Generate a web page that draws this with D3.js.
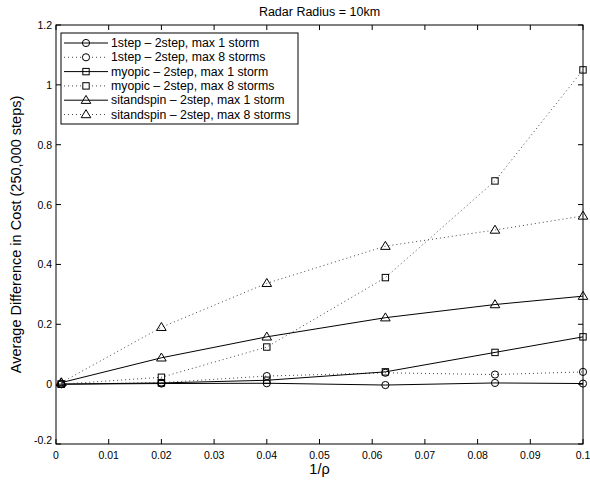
<!DOCTYPE html>
<html lang="en">
<head>
<meta charset="UTF-8">
<title>Radar Radius = 10km</title>
<script src="https://d3js.org/d3.v7.min.js"></script>
<style>
  body { margin: 0; background: #fff; }
  svg { display: block; font-family: "Liberation Sans", Arial, sans-serif; }
</style>
</head>
<body>
<div id="chart"></div>
<script>
const xValues = [0.001, 0.02, 0.04, 0.0625, 0.0833, 0.1]
const seriesNames = [
  "1step \u2013 2step, max 1 storm",
  "1step \u2013 2step, max 8 storms",
  "myopic \u2013 2step, max 1 storm",
  "myopic \u2013 2step, max 8 storms",
  "sitandspin \u2013 2step, max 1 storm",
  "sitandspin \u2013 2step, max 8 storms"
]
const oneStep1 = [0, 0.002, 0.003, -0.003, 0.004, 0.002]
const oneStep8 = [0, 0.005, 0.027, 0.038, 0.032, 0.041]
const myopic1 = [0, 0.004, 0.013, 0.041, 0.106, 0.158]
const myopic8 = [0, 0.023, 0.124, 0.356, 0.679, 1.05]
const sit1 = [0.005, 0.088, 0.158, 0.222, 0.266, 0.294]
const sit8 = [0.005, 0.19, 0.337, 0.461, 0.515, 0.562]
const seriesValues = [oneStep1, oneStep8, myopic1, myopic8, sit1, sit8]
const seriesMarkers = ["circle", "circle", "square", "square", "triangle", "triangle"]
const seriesDotted = [false, true, false, true, false, true]
const xTicks = [0, 0.01, 0.02, 0.03, 0.04, 0.05, 0.06, 0.07, 0.08, 0.09, 0.1]
const yTicks = [-0.2, 0, 0.2, 0.4, 0.6, 0.8, 1, 1.2]

const width = 590, height = 483
const margin = {left: 56, right: 7, top: 25, bottom: 39}
const svg = d3.select("#chart").append("svg")
  .attr("width", width).attr("height", height)

const x = d3.scaleLinear().domain([0, 0.1]).range([margin.left, width - margin.right])
const y = d3.scaleLinear().domain([-0.2, 1.2]).range([height - margin.bottom, margin.top])
const fmt = d => (+d.toFixed(2)).toString().replace("\u2212", "-")

// box
svg.append("rect")
  .attr("x", x(0)).attr("y", y(1.2))
  .attr("width", x(0.1) - x(0)).attr("height", y(-0.2) - y(1.2))
  .attr("fill", "none").attr("stroke", "#000").attr("stroke-width", 1)

const tickLen = 5
const g = svg.append("g").attr("stroke", "#000").attr("stroke-width", 1)
xTicks.forEach(t => {
  g.append("line").attr("x1", x(t)).attr("x2", x(t)).attr("y1", y(-0.2)).attr("y2", y(-0.2) - tickLen)
  g.append("line").attr("x1", x(t)).attr("x2", x(t)).attr("y1", y(1.2)).attr("y2", y(1.2) + tickLen)
})
yTicks.forEach(t => {
  g.append("line").attr("x1", x(0)).attr("x2", x(0) + tickLen).attr("y1", y(t)).attr("y2", y(t))
  g.append("line").attr("x1", x(0.1)).attr("x2", x(0.1) - tickLen).attr("y1", y(t)).attr("y2", y(t))
})

svg.append("g").selectAll("text").data(xTicks).join("text")
  .attr("x", d => x(d)).attr("y", y(-0.2) + 15)
  .attr("text-anchor", "middle").attr("font-size", 10.5)
  .text(fmt)
svg.append("g").selectAll("text").data(yTicks).join("text")
  .attr("x", x(0) - 4).attr("y", d => y(d) + 4 - (d === -0.2 ? 4 : 0))
  .attr("text-anchor", "end").attr("font-size", 10.5)
  .text(fmt)

svg.append("text").attr("x", (x(0) + x(0.1)) / 2).attr("y", 16)
  .attr("text-anchor", "middle").attr("font-size", 12.5)
  .text("Radar Radius = 10km")
svg.append("text").attr("x", (x(0) + x(0.1)) / 2).attr("y", 474)
  .attr("text-anchor", "middle").attr("font-size", 14.5)
  .text("1/\u03c1")
svg.append("text")
  .attr("transform", `translate(21,${(y(-0.2) + y(1.2)) / 2}) rotate(-90)`)
  .attr("text-anchor", "middle").attr("font-size", 14.5)
  .text("Average Difference in Cost (250,000 steps)")

function drawMarker(sel, type, cx, cy) {
  if (type === "circle") {
    sel.append("circle").attr("cx", cx).attr("cy", cy).attr("r", 3.6)
  } else if (type === "square") {
    sel.append("rect").attr("x", cx - 3.2).attr("y", cy - 3.2).attr("width", 6.4).attr("height", 6.4)
  } else {
    sel.append("path").attr("d", `M${cx},${cy - 4.8}L${cx + 4.8},${cy + 3.2}L${cx - 4.8},${cy + 3.2}Z`)
  }
}

const line = d3.line().x(d => x(d[0])).y(d => y(d[1]))
const plot = svg.append("g")
seriesValues.forEach((vals, i) => {
  const pts = xValues.map((xv, j) => [xv, vals[j]])
  plot.append("path").attr("d", line(pts))
    .attr("fill", "none")
    .attr("stroke", seriesDotted[i] ? "#444" : "#000")
    .attr("stroke-width", 1)
    .attr("stroke-dasharray", seriesDotted[i] ? "1,3" : null)
  const mg = plot.append("g").attr("fill", "none").attr("stroke", "#000").attr("stroke-width", 1)
  pts.forEach(p => drawMarker(mg, seriesMarkers[i], x(p[0]), y(p[1])))
})

// legend
const lg = svg.append("g")
lg.append("rect").attr("x", 61).attr("y", 33).attr("width", 237).attr("height", 91)
  .attr("fill", "#fff").attr("stroke", "#000").attr("stroke-width", 1)
seriesNames.forEach((name, i) => {
  const ly = 43 + i * 14.3
  lg.append("line").attr("x1", 64).attr("x2", 108).attr("y1", ly).attr("y2", ly)
    .attr("stroke", seriesDotted[i] ? "#444" : "#000").attr("stroke-width", 1)
    .attr("stroke-dasharray", seriesDotted[i] ? "1,3" : null)
  const mg = lg.append("g").attr("fill", seriesDotted[i] ? "#fff" : "none").attr("stroke", "#000")
  drawMarker(mg, seriesMarkers[i], 86, ly)
  lg.append("text").attr("x", 111).attr("y", ly + 4).attr("font-size", 12.3).text(name)
})
</script>
</body>
</html>
